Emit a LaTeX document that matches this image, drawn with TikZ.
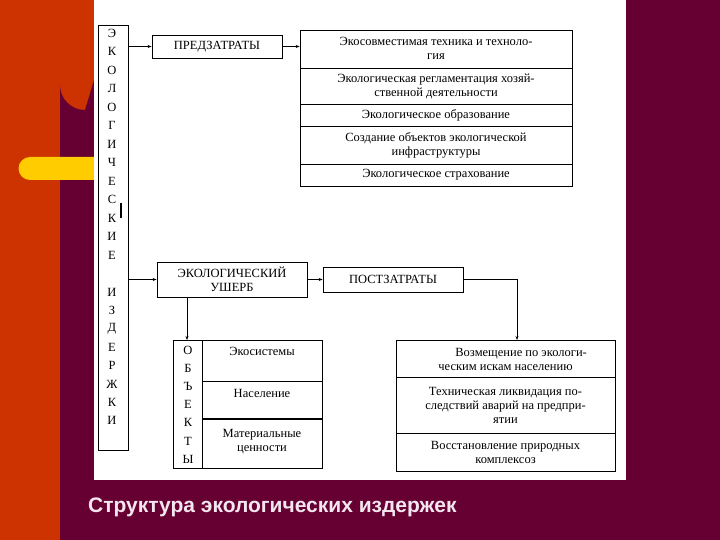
\documentclass[tikz,border=0pt]{standalone}
\usepackage{fontspec}
\setmainfont{Liberation Serif}
\newfontfamily\titlefont{Liberation Sans}
\usetikzlibrary{arrows.meta}
\definecolor{bgorange}{HTML}{CC3300}
\definecolor{bgmaroon}{HTML}{660033}
\definecolor{bgyellow}{HTML}{FFCC00}
\definecolor{titlecol}{HTML}{F4E6EE}
\tikzset{
  box/.style={draw=black, line width=0.8pt},
  txt/.style={font=\fontsize{12.5}{14}\selectfont, align=center, inner sep=0pt},
  arr/.style={-{Stealth[length=4pt,width=3pt]}, line width=0.6pt},
  ln/.style={line width=0.6pt}
}
\begin{document}
\begin{tikzpicture}[x=1pt,y=-1pt]
\useasboundingbox (0,0) rectangle (720,540);
% background
\fill[bgorange] (0,0) rectangle (720,540);
\fill[bgmaroon] (60,540) -- (60,85) arc[start angle=180,end angle=90,radius=25] -- (100,60) -- (100,540) -- cycle;
\fill[bgmaroon] (60,480) rectangle (720,540);
\fill[bgmaroon] (625,0) rectangle (720,540);
\fill[bgyellow] (30,157) arc[start angle=90,end angle=270,radius=-11.5] -- (95,180) -- (95,157) -- cycle;
\fill[bgyellow] (30,157) rectangle (95,180);
\fill[bgyellow] (30,168.5) circle[radius=11.5];
\fill[white] (94,0) rectangle (626,480);

% vertical box
\draw[box] (98,25) rectangle (128,450);
\node[coordinate] (vb) at (128,0) {};
\foreach \l [count=\i from 0] in {Э,К,О,Л,О,Г,И,Ч,Е,С,К,И,Е}
  \node[txt] (v\i) at (112,33+18.5*\i) {\l};
\foreach \l [count=\i from 0] in {И,З,Д,Е,Р,Ж,К,И}
  \node[txt] (w\i) at (112,292+18.4*\i) {\l};
\draw[line width=1.6pt] (121,203) -- (121,218);

% ПРЕДЗАТРАТЫ
\node[box, txt, minimum width=130pt, minimum height=23pt] (pre) at (217,46.5) {ПРЕДЗАТРАТЫ};
\coordinate (s1) at (128,46.5);
\draw[arr] (s1) -- (pre.west);

% top table
\node[box, minimum width=272pt, minimum height=156pt, inner sep=0pt] (tt) at (436,108) {};
\draw[arr] (pre.east) -- (tt.west |- pre.east);
\foreach \y in {68,104,126,164} \draw[ln] (300,\y) -- (572,\y);
\node[txt] (t1) at (436,48) {Экосовместимая техника и техноло-\\гия};
\node[txt] (t2) at (436,86) {Экологическая регламентация хозяй-\\ственной деятельности};
\node[txt] (t3) at (436,115) {Экологическое образование};
\node[txt] (t4) at (436,145) {Создание объектов экологической\\инфраструктуры};
\node[txt] (t5) at (436,175) {Экологическое страхование};

% ущерб
\node[box, txt, minimum width=150pt, minimum height=35pt] (ush) at (232,279.5) {ЭКОЛОГИЧЕСКИЙ\\УШЕРБ};
\coordinate (s2) at (128,279.5);
\draw[arr] (s2) -- (ush.west);

% постзатраты
\node[box, txt, minimum width=140pt, minimum height=25pt] (post) at (393,279.5) {ПОСТЗАТРАТЫ};
\draw[arr] (ush.east) -- (post.west);

% objects table
\node[box, minimum width=149pt, minimum height=128pt, inner sep=0pt] (ob) at (247.5,404) {};
\draw[ln] (202,340) -- (202,468);
\draw[ln] (202,381) -- (322,381);
\draw[line width=1.4pt] (202,419) -- (322,419);
\foreach \l [count=\i from 0] in {О,Б,Ъ,Е,К,Т,Ы}
  \node[txt] (o\i) at (188,350+18.2*\i) {\l};
\node[txt] (ob1) at (262,351) {Экосистемы};
\node[txt] (ob2) at (262,393) {Население};
\node[txt] (ob3) at (262,442) {Материальные\\ценности};
\coordinate (d1) at (187,297);
\draw[arr] (d1) -- (187,340);

% right table
\node[box, minimum width=219pt, minimum height=131pt, inner sep=0pt] (rt) at (505.5,405.5) {};
\draw[ln] (396,377) -- (615,377);
\draw[ln] (396,433) -- (615,433);
\node[txt] (r1) at (505.5,359) {\hspace*{2.5em}Возмещение по экологи-\\ческим искам населению};
\node[txt] (r2) at (505.5,405) {Техническая ликвидация по-\\следствий аварий на предпри-\\ятии};
\node[txt] (r3) at (505.5,452) {Восстановление природных\\комплексоз};
\draw[arr] (post.east) -| (517,340);

% title
\node[anchor=base west, inner sep=0pt, text=titlecol, font=\titlefont\bfseries\fontsize{21}{24}\selectfont] (title) at (88,512) {Структура экологических издержек};
\end{tikzpicture}
\end{document}
